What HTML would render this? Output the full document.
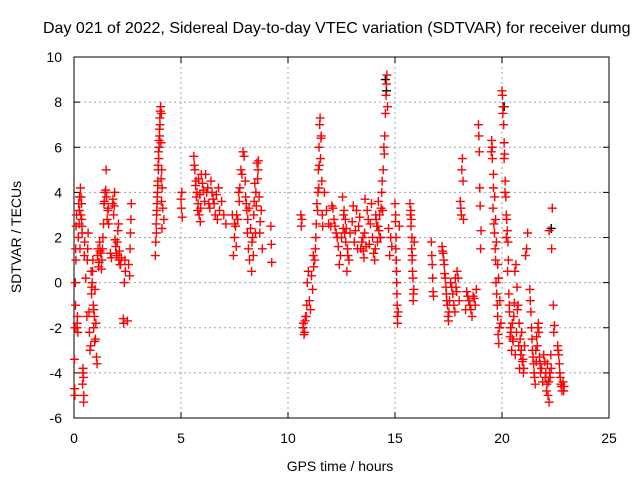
<!DOCTYPE html>
<html><head><meta charset="utf-8"><style>
html,body{margin:0;padding:0;background:#fff;}
svg{display:block;font-family:"Liberation Sans",sans-serif;}
</style></head><body>
<svg id="chart" width="640" height="480" viewBox="0 0 640 480">
<text x="43" y="33" font-size="16" fill="#000">Day 021 of 2022, Sidereal Day-to-day VTEC variation (SDTVAR) for receiver dumg</text>
<g id="grid"></g>
<g id="axes"></g>
<g id="marks"></g>
<text x="340" y="471" font-size="14" text-anchor="middle">GPS time / hours</text>
<text transform="translate(21,237) rotate(-90)" font-size="14" text-anchor="middle">SDTVAR / TECUs</text>
</svg>
<script>
const xTicks=[0,5,10,15,20,25];
const yTicks=[-6,-4,-2,0,2,4,6,8,10];
const redHours=[
0.02,0.03,0.04,0.05,0.06,0.08,0.1,0.12,0.14,0.16,0.2,0.22,0.24,0.26,0.3,0.32,0.35,0.38,0.42,0.45,0.4,0.42,0.44,0.46,0.36,0.5,
0.6,0.62,0.64,0.66,0.8,0.82,0.85,0.88,0.9,0.92,0.95,0.98,1.0,1.05,1.1,1.12,1.15,1.2,1.25,
1.3,1.35,1.4,1.45,1.5,1.55,1.6,1.8,1.85,1.9,1.95,2.0,2.05,2.1,2.15,2.3,2.32,2.35,2.38,2.4,2.6,2.62,2.64,2.66,2.68,
3.8,3.82,3.84,3.86,3.88,3.9,3.92,3.94,3.96,3.98,4.0,4.02,4.05,4.08,4.1,4.12,4.15,4.2,
5.0,5.02,5.04,5.06,5.6,5.65,5.7,5.75,5.8,5.85,5.9,5.95,6.2,6.3,6.4,6.5,6.6,6.7,6.75,6.8,
7.4,7.45,7.5,7.55,7.6,7.7,7.8,7.9,8.0,8.05,8.1,8.15,8.2,8.3,8.35,8.4,8.5,8.55,8.6,8.7,8.8,9.2,9.22,9.24,
10.6,10.62,10.7,10.75,10.8,10.85,10.9,10.95,11.0,11.05,11.2,11.25,11.3,11.35,11.4,11.42,11.45,11.48,11.5,11.52,11.55,11.58,11.6,11.62,
12.0,12.1,12.2,12.3,12.4,12.5,12.55,12.6,12.65,12.7,12.75,12.8,13.0,13.1,13.2,13.3,13.4,13.5,13.55,13.6,
13.9,13.95,14.0,14.05,14.1,14.15,14.2,14.25,14.3,14.35,14.4,14.45,14.5,14.52,14.55,14.58,14.6,14.62,14.65,
15.0,15.02,15.04,15.06,15.08,15.1,15.12,15.15,15.2,15.7,15.72,15.75,15.78,15.8,15.82,15.85,15.88,15.9,
16.7,16.72,16.74,16.76,16.78,16.8,17.2,17.25,17.3,17.35,17.4,17.45,17.5,17.52,17.6,17.7,17.8,17.85,17.9,18.0,
18.05,18.08,18.1,18.12,18.15,18.18,18.2,18.4,18.5,18.6,18.7,18.8,18.9,18.92,18.94,18.96,18.98,19.0,19.02,
19.5,19.52,19.55,19.58,19.6,19.62,19.65,19.68,19.7,19.72,19.75,19.78,19.8,19.82,19.85,19.88,
20.0,20.02,20.05,20.08,20.1,20.12,20.15,20.18,20.2,20.22,20.25,20.28,20.3,20.32,20.35,20.4,20.45,20.5,20.55,20.58,
20.6,20.65,20.7,20.75,20.8,20.85,20.9,20.95,21.0,21.02,21.05,21.1,21.15,21.2,
21.3,21.35,21.4,21.45,21.5,21.55,21.6,21.65,21.7,21.72,21.75,21.8,
22.0,22.05,22.1,22.15,22.2,22.25,22.3,22.32,22.35,22.2,22.4,22.42,22.45,22.6,22.65,22.7,22.75,22.8,22.9,
0.07,0.09,0.15,0.18,0.25,0.28,0.33,0.37,0.48,0.55,0.7,0.72,0.75,0.78,0.83,0.87,0.93,0.97,1.02,1.08,1.17,1.22,1.28,1.33,1.38,1.42,1.48,1.52,1.58,1.62,1.7,1.75,1.82,1.88,1.92,1.98,2.02,2.08,2.12,2.18,2.22,2.5,2.55,
3.85,3.87,3.89,3.91,3.93,3.95,3.97,3.99,4.01,4.03,4.06,4.07,4.09,4.11,
5.62,5.68,5.72,5.78,5.82,5.88,5.92,6.0,6.05,6.1,6.15,6.25,6.35,6.45,6.55,6.65,6.9,7.0,7.1,
7.5,7.58,7.65,7.72,7.75,7.85,7.95,8.02,8.08,8.12,8.18,8.25,8.32,8.38,8.42,8.45,8.48,8.52,8.58,8.62,8.65,8.68,8.75,
10.65,10.72,10.78,10.82,10.88,11.1,11.15,11.18,11.28,11.32,11.38,11.44,11.46,11.54,11.7,11.8,11.9,
12.05,12.15,12.25,12.35,12.45,12.58,12.62,12.68,12.72,12.78,12.85,12.9,13.05,13.15,13.25,13.35,13.45,13.52,13.58,13.65,13.7,13.75,13.8,13.85,
14.08,14.12,14.18,14.22,14.28,14.32,14.38,14.42,14.48,14.7,14.75,14.8,14.85,
15.03,15.05,15.07,15.09,15.11,15.74,15.76,15.79,15.81,15.84,15.86,
17.22,17.28,17.32,17.38,17.42,17.48,17.55,17.65,17.75,17.82,17.88,17.95,18.3,18.35,18.45,18.55,18.65,18.75,
19.54,19.6,19.66,19.7,19.74,19.8,19.84,19.9,19.95,20.04,20.1,20.14,20.2,20.26,20.34,20.38,20.42,20.48,20.52,20.62,20.68,20.72,20.78,20.82,20.88,20.92,20.98,
21.32,21.38,21.42,21.48,21.52,21.58,21.62,21.68,21.78,21.85,21.9,21.95,22.02,22.08,22.12,22.18,22.22,22.28,22.62,22.68,22.72,22.78,22.85,22.88];
const redValues=[
-3.4,-4.7,-5,-2,0,1.5,2.5,3,-2,-1.5,2,3.5,2.6,3.8,4.2,3,3.5,2.2,-4,-5.3,-4.5,-3.8,-4.2,-5,2.8,1.8,
-1.5,1,1.5,2.2,0.5,-0.5,0,1,-1,-2,-1.5,-0.3,-2.5,-3.3,1.2,1.5,0.7,1.8,1.3,
1,2,3.5,4,5,2.8,3.3,3.5,3,4,1.6,1.2,2.3,1,0.8,-1.6,-1.8,0,1,0.5,0.3,1.5,2.2,2.8,3.5,
1.2,1.8,2.6,3,3.5,4,4.5,5,5.5,6,6.5,7,7.8,7.5,5,4.2,3.3,2.8,
3.7,3.3,4,2.9,5.6,5.0,4.5,4,3.5,3,2.7,4.8,4,3.5,4.5,3.7,3,2.8,4.2,3.2,
3,1.2,2,2.5,3,4,5,5.8,4.5,3.5,2.2,1.5,1,0.5,2,3,4,5.3,5.0,2.7,1.5,2.5,1.7,0.9,
3,2.5,-2,-2.3,-1.7,-1.5,0,0.5,-0.8,-1.2,0.7,1,2,3.5,4,5,6,7,7.3,5.5,6.5,4.5,3,2.5,
2.5,3.3,2.5,2,0.8,2,3.8,3,2.2,1.8,0.5,1.2,2.7,1.8,3.2,2.5,1.5,2,1.1,3.7,
3.5,2,1.3,1,3,2.5,2.5,2.3,2.0,3.3,4.5,5,5.7,6.5,7.5,8.3,8.8,9.2,7.8,
3.5,2.7,1.5,1,0,-1,-1.8,-1.3,2.5,3.5,3.0,2.5,1.5,1,0.5,-0.8,-0.3,1.8,
1.8,1.2,0.8,0.2,-0.4,-0.6,1.6,1.3,0.8,0.2,-0.5,-1,-1.7,-1.3,0,-0.5,-1.3,-0.2,0.5,-0.8,
3.6,3.3,3,5,5.5,4.5,2.8,-0.6,-1,-1.5,-0.7,-0.3,7,6.5,5.8,4.2,3.4,1.5,2.3,
5.8,6.3,5.5,3.3,4.2,2.6,2.2,1.5,1,0,-0.5,-1,-1.5,-2.3,-2.7,-2.0,
8.5,8.3,7.8,7,6.2,5.7,4.5,3.8,3,2.8,2.3,1.8,1,-0.5,-1.3,-2,-3,-2.5,-1.5,-0.9,
0.5,0.8,-0.2,-1,-1.8,-2.5,-3,-3.5,-4,-3.8,-2.8,1.2,1.5,2.2,
-0.3,-1.3,-2.5,-3.3,-4,-4.5,-3.5,-2.8,-1.8,-2.2,-3.3,-4,
-3.5,-4,-4.5,-5,-5.3,-4.2,-3.8,1.5,3.3,2.3,-1,-2.2,-1.9,-2.8,-3.2,-4,-4.5,-4.8,-4.6,
-1,1,-1.8,-2.2,3.2,1.5,3.8,2.5,1.2,0.2,-1.3,-2.2,-3,-2.8,-0.2,0.5,-1.2,-2.6,-1.8,-3.6,0.9,1.4,0.6,1.5,2.6,3.6,4.1,3.8,3.2,2.6,1.3,1.1,3.7,3.4,1.9,1.3,1.8,2.6,1.4,0.8,1.1,-1.7,0.8,
2.2,3.2,3.8,4.3,5.2,5.8,6.3,6.8,7.3,7.6,6.2,4.6,3.6,2.4,
5.2,4.3,3.8,3.2,4.6,3.9,3.3,4.4,4.1,3.6,4.8,4.2,3.3,4.0,3.5,3.9,3.6,3.0,2.6,
2.6,1.6,2.8,3.6,4.2,4.8,5.6,3.8,3.2,2.8,3.3,2.4,1.8,1.2,3.6,4.4,2.2,3.4,4.6,5.4,3.8,2.2,3.2,
2.8,-1.8,-2.2,-1.5,-1.0,0.3,-0.3,1.2,1.5,2.6,3.2,4.2,5.2,6.4,4.0,3.2,2.6,
3.4,2.8,2.2,1.6,1.2,2.4,3.2,2.8,2.4,1.5,1.0,2.2,3.4,2.3,1.5,2.9,1.8,1.4,2.2,1.6,3.2,2.8,1.7,2.6,
1.5,2.8,1.8,3.6,3.0,2.0,4.0,3.2,6.0,2.4,1.2,2.0,1.6,
3.0,2.0,0.5,-0.5,-1.5,3.2,2.8,2.0,1.2,0.2,-0.5,
1.4,1.0,0.4,-0.2,-0.8,-1.5,-0.8,-0.2,-1.0,0.2,-0.4,0.2,-1.2,-0.4,-0.8,-1.2,-0.6,-1.0,
6.0,4.8,3.8,2.8,1.8,0.8,0.2,-0.8,-1.8,7.5,5.5,4.0,2.0,0.5,-1.0,-2.4,-2.2,-1.8,-2.6,-3.2,-2.2,-1.2,-2.8,-3.8,-3.2,-2.2,-3.4,
-0.8,-2.0,-3.0,-3.6,-4.2,-3.0,-2.4,-2.0,-3.6,-3.8,-4.4,-3.2,-4.2,-4.8,-3.6,-4.4,-4.0,-3.2,-3.0,-3.6,-4.2,-4.6,-4.4,-4.8];
const blackHours=[14.55,14.6,20.1,22.3];
const blackValues=[9.0,8.5,7.8,2.4];

const ns="http://www.w3.org/2000/svg";
const X0=74,X1=609,Y0=418,Y1=57;
const xs=t=>X0+(t-0)/(25-0)*(X1-X0);
const ys=v=>Y0-(v-(-6))/(10-(-6))*(Y0-Y1);
function mk(tag,attrs,parent){const e=document.createElementNS(ns,tag);for(const k in attrs)e.setAttribute(k,attrs[k]);parent.appendChild(e);return e;}
const grid=document.getElementById('grid'),axes=document.getElementById('axes'),marks=document.getElementById('marks');
xTicks.forEach(t=>{
  const x=xs(t);
  if(t>0&&t<25){const g=mk('line',{x1:x,x2:x,y1:Y1,y2:Y0,stroke:'#a0a0a0','stroke-dasharray':'2,3'},grid);
  
  }
  mk('line',{x1:x,x2:x,y1:Y0,y2:Y0-6,stroke:'#000'},axes);
  mk('line',{x1:x,x2:x,y1:Y1,y2:Y1+6,stroke:'#000'},axes);
  const l=mk('text',{x:x,y:443,'font-size':14,'text-anchor':'middle'},axes);l.textContent=t;
  
  
});
yTicks.forEach(v=>{
  const y=ys(v);
  if(v>-6&&v<10){const g=mk('line',{x1:X0,x2:X1,y1:y,y2:y,stroke:'#a0a0a0','stroke-dasharray':'2,3'},grid);
  
  }
  mk('line',{x1:X0,x2:X0+6,y1:y,y2:y,stroke:'#000'},axes);
  mk('line',{x1:X1,x2:X1-6,y1:y,y2:y,stroke:'#000'},axes);
  const l=mk('text',{x:62,y:y+5,'font-size':14,'text-anchor':'end'},axes);l.textContent=v;
  
  
});
const frame=mk('rect',{x:X0,y:Y1,width:X1-X0,height:Y0-Y1,fill:'none',stroke:'#000'},axes);


function plus(t,v,color){
  const x=xs(t),y=ys(v);
  return mk('path',{d:`M${x-4.5},${y}h9M${x},${y-4.5}v9`,stroke:color,'stroke-width':1.4,fill:'none'},marks);
}
blackHours.forEach((t,i)=>{const p=plus(t,blackValues[i],'#000');
  
  });
redHours.forEach((t,i)=>{const p=plus(t,redValues[i],'#ff0000');
  
  });
</script>
</body></html>
